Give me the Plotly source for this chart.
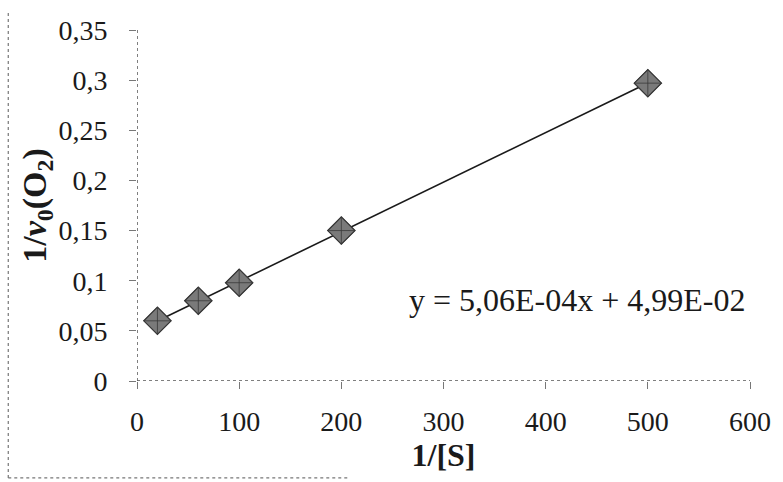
import numpy as np
import plotly.graph_objects as go

# Data
inv_s = [20, 60, 100, 200, 500]
inv_v0 = [0.060, 0.080, 0.098, 0.150, 0.297]
x_ticks = [0, 100, 200, 300, 400, 500, 600]
x_tick_labels = ["0", "100", "200", "300", "400", "500", "600"]
y_ticks = [0, 0.05, 0.1, 0.15, 0.2, 0.25, 0.3, 0.35]
y_tick_labels = ["0", "0,05", "0,1", "0,15", "0,2", "0,25", "0,3", "0,35"]
equation_text = "y = 5,06E-04x + 4,99E-02"

# Linear trendline fitted to the data
slope, intercept = np.polyfit(inv_s, inv_v0, 1)
line_x = [min(inv_s), max(inv_s)]
line_y = [slope * v + intercept for v in line_x]

FONT = "Liberation Serif"

fig = go.Figure()
fig.add_trace(go.Scatter(x=line_x, y=line_y, mode="lines",
                         line=dict(color="#1a1a1a", width=1.6),
                         showlegend=False, hoverinfo="skip"))
fig.add_trace(go.Scatter(x=inv_s, y=inv_v0, mode="markers",
                         marker=dict(symbol="diamond", size=21, color="#7a7a7a",
                                     line=dict(color="#333333", width=1.2)),
                         showlegend=False))
fig.add_trace(go.Scatter(x=inv_s, y=inv_v0, mode="markers",
                         marker=dict(symbol="diamond-cross-open", size=21,
                                     color="#3a3a3a", line=dict(width=0.8)),
                         showlegend=False, hoverinfo="skip"))

dot = dict(color="#555555", width=1.5, dash="dot")
shapes = [
    dict(type="line", xref="x", yref="y", x0=0, x1=600, y0=0, y1=0, line=dot),
    dict(type="line", xref="x", yref="y", x0=0, x1=0, y0=0, y1=0.35, line=dot),
    # outer chart border fragments from the scan
    dict(type="line", xref="paper", yref="paper", x0=-0.21, x1=-0.21, y0=-0.276, y1=1.057,
         line=dict(color="#777777", width=1.2, dash="dot")),
    dict(type="line", xref="paper", yref="paper", x0=-0.21, x1=0.347, y0=-0.276, y1=-0.276,
         line=dict(color="#777777", width=1.2, dash="dot")),
]

fig.update_layout(
    template="none",
    width=783, height=482,
    margin=dict(l=137, r=33, t=30, b=101),
    paper_bgcolor="white", plot_bgcolor="white",
    font=dict(family=FONT, color="#1a1a1a", size=28),
    shapes=shapes,
    xaxis=dict(range=[0, 600], tickvals=x_ticks, ticktext=x_tick_labels,
               showgrid=False, zeroline=False, showline=False,
               ticks="outside", ticklen=7, tickcolor="#777777", tickwidth=1,
               tickfont=dict(size=28, family=FONT, color="#1a1a1a"), ticklabelstandoff=8,
               title=dict(text="<b>1/[S]</b>", font=dict(size=32, family=FONT, color="#1a1a1a"),
                          standoff=4)),
    yaxis=dict(range=[0, 0.35], tickvals=y_ticks, ticktext=y_tick_labels,
               showgrid=False, zeroline=False, showline=False,
               ticks="outside", ticklen=7, tickcolor="#777777", tickwidth=1,
               tickfont=dict(size=28, family=FONT, color="#1a1a1a"), ticklabelstandoff=16,
               title=dict(text="<b>1/<i>v</i><sub>0</sub>(O<sub>2</sub>)</b>",
                          font=dict(size=34, family=FONT, color="#1a1a1a"), standoff=0)),
    annotations=[dict(x=431, y=0.081, xref="x", yref="y", text=equation_text,
                      showarrow=False, xanchor="center", yanchor="middle",
                      font=dict(size=32, family=FONT, color="#1a1a1a"))],
)

fig.write_html("out.html", config={"displayModeBar": False},
               post_script="document.body.style.margin='0';")
